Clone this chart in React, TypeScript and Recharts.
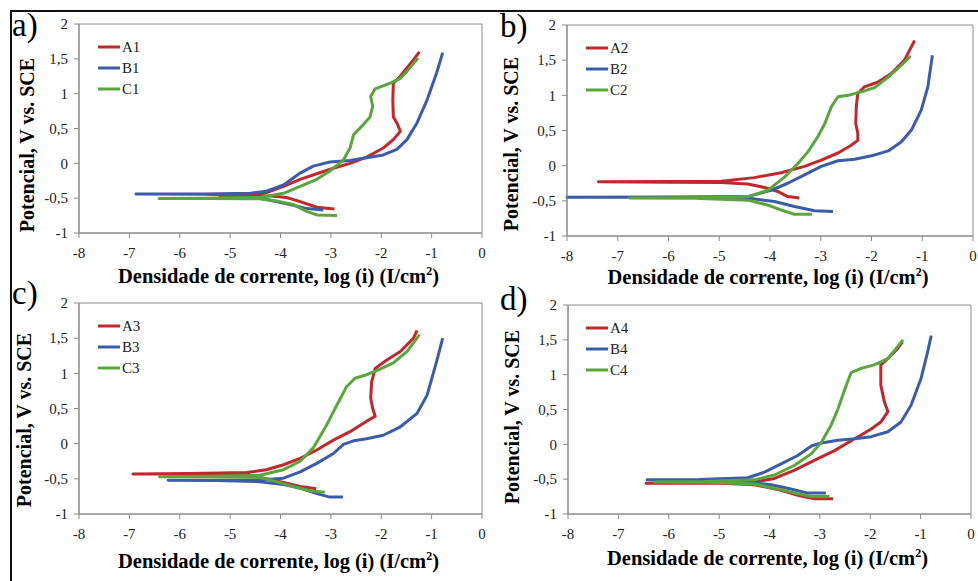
import { LineChart, Line, XAxis, YAxis, ReferenceArea } from "recharts";

type Pt = [number, number];

const X_TICKS = [-8, -7, -6, -5, -4, -3, -2, -1, 0];
const Y_TICKS = [-1, -0.5, 0, 0.5, 1, 1.5, 2];
const Y_TITLE = "Potencial, V vs. SCE";

// a)
const A1: Pt[] = [[-2.93,-0.655],[-3.28,-0.63],[-3.61,-0.55],[-3.88,-0.49],[-4.2,-0.47],[-4.8,-0.465],[-5.2,-0.465],[-4.8,-0.46],[-4.5,-0.44],[-4.28,-0.42],[-3.94,-0.33],[-3.61,-0.23],[-3.28,-0.15],[-2.95,-0.07],[-2.62,0.0],[-2.29,0.09],[-1.96,0.22],[-1.76,0.34],[-1.62,0.46],[-1.69,0.58],[-1.76,0.67],[-1.77,0.91],[-1.76,1.15],[-1.66,1.22],[-1.49,1.37],[-1.24,1.6]];
const B1: Pt[] = [[-3.15,-0.67],[-3.48,-0.65],[-3.81,-0.59],[-4.28,-0.52],[-4.7,-0.46],[-5.5,-0.445],[-6.87,-0.44],[-5.5,-0.44],[-4.6,-0.43],[-4.28,-0.4],[-3.94,-0.31],[-3.61,-0.14],[-3.35,-0.04],[-3.02,0.02],[-2.62,0.04],[-2.29,0.08],[-1.96,0.12],[-1.69,0.2],[-1.49,0.34],[-1.29,0.58],[-1.09,0.91],[-0.9,1.3],[-0.78,1.59]];
const C1: Pt[] = [[-2.88,-0.75],[-3.28,-0.74],[-3.48,-0.69],[-3.75,-0.59],[-4.08,-0.54],[-4.41,-0.51],[-5.5,-0.505],[-6.41,-0.505],[-5.5,-0.5],[-4.41,-0.49],[-3.94,-0.43],[-3.61,-0.33],[-3.28,-0.23],[-3.02,-0.11],[-2.75,0.05],[-2.62,0.22],[-2.55,0.41],[-2.39,0.53],[-2.22,0.67],[-2.17,0.82],[-2.21,0.96],[-2.12,1.07],[-1.82,1.15],[-1.62,1.22],[-1.49,1.32],[-1.27,1.51]];

// b)
const A2: Pt[] = [[-3.42,-0.46],[-3.65,-0.44],[-3.84,-0.37],[-4.11,-0.31],[-4.44,-0.26],[-4.96,-0.24],[-6.0,-0.235],[-7.38,-0.23],[-6.0,-0.225],[-4.96,-0.22],[-4.31,-0.17],[-3.78,-0.1],[-3.32,-0.01],[-2.99,0.08],[-2.66,0.18],[-2.4,0.29],[-2.27,0.36],[-2.27,0.46],[-2.31,0.6],[-2.3,0.84],[-2.27,1.03],[-2.14,1.12],[-1.87,1.19],[-1.61,1.31],[-1.35,1.5],[-1.15,1.78]];
const B2: Pt[] = [[-2.76,-0.65],[-3.12,-0.64],[-3.52,-0.58],[-3.91,-0.51],[-4.44,-0.46],[-6.0,-0.45],[-8.0,-0.45],[-6.0,-0.445],[-4.44,-0.44],[-3.98,-0.35],[-3.65,-0.25],[-3.32,-0.13],[-2.99,-0.01],[-2.66,0.07],[-2.33,0.09],[-2.0,0.14],[-1.67,0.21],[-1.41,0.34],[-1.21,0.51],[-1.02,0.79],[-0.89,1.12],[-0.8,1.57]];
const C2: Pt[] = [[-3.17,-0.69],[-3.52,-0.69],[-3.78,-0.63],[-4.04,-0.56],[-4.44,-0.49],[-5.5,-0.465],[-6.77,-0.46],[-5.5,-0.455],[-4.44,-0.44],[-4.04,-0.35],[-3.71,-0.16],[-3.45,0.03],[-3.25,0.2],[-3.06,0.41],[-2.92,0.6],[-2.79,0.84],[-2.66,0.98],[-2.46,1.0],[-2.2,1.05],[-1.94,1.11],[-1.67,1.26],[-1.41,1.43],[-1.23,1.56]];

// c)
const A3: Pt[] = [[-3.29,-0.64],[-3.61,-0.61],[-3.94,-0.55],[-4.28,-0.5],[-4.67,-0.44],[-5.8,-0.43],[-6.93,-0.43],[-5.8,-0.425],[-4.67,-0.41],[-4.28,-0.37],[-3.94,-0.3],[-3.61,-0.21],[-3.28,-0.09],[-2.95,0.05],[-2.62,0.17],[-2.29,0.32],[-2.12,0.39],[-2.17,0.5],[-2.21,0.65],[-2.19,0.88],[-2.12,1.07],[-1.89,1.19],[-1.62,1.31],[-1.36,1.5],[-1.29,1.61]];
const B3: Pt[] = [[-2.76,-0.76],[-3.02,-0.76],[-3.28,-0.71],[-3.61,-0.63],[-3.94,-0.58],[-4.41,-0.54],[-5.3,-0.525],[-6.23,-0.52],[-5.3,-0.52],[-4.41,-0.515],[-3.94,-0.49],[-3.61,-0.4],[-3.28,-0.28],[-2.95,-0.14],[-2.75,-0.01],[-2.55,0.04],[-2.29,0.07],[-1.96,0.12],[-1.62,0.24],[-1.29,0.43],[-1.09,0.69],[-0.9,1.17],[-0.78,1.5]];
const C3: Pt[] = [[-3.12,-0.69],[-3.41,-0.67],[-3.75,-0.61],[-4.08,-0.54],[-4.41,-0.48],[-5.4,-0.47],[-6.4,-0.47],[-5.4,-0.465],[-4.41,-0.45],[-3.94,-0.37],[-3.61,-0.25],[-3.35,-0.06],[-3.08,0.27],[-2.88,0.55],[-2.69,0.81],[-2.52,0.93],[-2.29,0.98],[-2.09,1.04],[-1.76,1.15],[-1.49,1.31],[-1.24,1.55]];

// d)
const A4: Pt[] = [[-2.74,-0.78],[-3.11,-0.78],[-3.44,-0.73],[-3.77,-0.66],[-4.3,-0.58],[-4.96,-0.56],[-6.45,-0.56],[-4.96,-0.555],[-4.3,-0.54],[-3.9,-0.49],[-3.5,-0.37],[-3.11,-0.23],[-2.71,-0.09],[-2.31,0.08],[-1.98,0.22],[-1.79,0.32],[-1.65,0.47],[-1.72,0.61],[-1.79,0.85],[-1.79,1.14],[-1.65,1.23],[-1.45,1.38],[-1.36,1.47]];
const B4: Pt[] = [[-2.88,-0.7],[-3.24,-0.7],[-3.64,-0.63],[-3.97,-0.58],[-4.43,-0.54],[-5.4,-0.52],[-6.43,-0.51],[-5.4,-0.505],[-4.43,-0.48],[-4.1,-0.4],[-3.77,-0.28],[-3.44,-0.16],[-3.16,-0.02],[-2.97,0.02],[-2.64,0.06],[-2.31,0.08],[-1.98,0.11],[-1.65,0.18],[-1.39,0.32],[-1.19,0.56],[-0.99,0.95],[-0.86,1.33],[-0.79,1.56]];
const C4: Pt[] = [[-2.81,-0.75],[-3.16,-0.75],[-3.5,-0.7],[-3.83,-0.64],[-4.3,-0.57],[-5.3,-0.545],[-6.28,-0.54],[-5.3,-0.535],[-4.3,-0.51],[-3.9,-0.44],[-3.5,-0.3],[-3.16,-0.13],[-2.97,0.03],[-2.78,0.27],[-2.64,0.51],[-2.51,0.78],[-2.38,1.03],[-2.18,1.09],[-1.92,1.14],[-1.65,1.23],[-1.35,1.5]];

const COLORS = ["#c0282d", "#3c5ba8", "#5ba63c"];
const FONT = "Liberation Serif, Times New Roman, serif";
const AXIS = "#8a8a8a";

const toPts = (a: Pt[]) => a.map(([x, y]) => ({ x, y }));

type PanelProps = {
  letter: string;
  names: string[];
  series: Pt[][];
  left: number;
  top: number;
  height: number;
  box: { l: number; r: number; t: number; b: number };
  xTitleY: number;
  yTitle: [number, number];
  letterY: number;
};

function Panel({ letter, names, series, left, top, height, box, xTitleY, yTitle, letterY }: PanelProps) {
  const W = 490;
  const YW = 50;
  const XH = 30;
  const margin = { top: box.t, left: box.l - YW, right: W - box.r, bottom: height - box.b - XH };
  const cx = (box.l + box.r) / 2;

  const xLabel = () => (
    <g fontFamily={FONT}>
      <text x={cx - 2} y={xTitleY} textAnchor="middle" fontSize={20.5} fontWeight="bold" fill="#000">
        Densidade de corrente, log (i) (I/cm<tspan dy={-8} fontSize={12}>2</tspan><tspan dy={8}>)</tspan>
      </text>
      {names.map((n, i) => {
        const y = box.t + 23 + i * 21;
        return (
          <g key={n}>
            <line x1={98} x2={120} y1={y} y2={y} stroke={COLORS[i]} strokeWidth={3} />
            <text x={122} y={y + 5} fontSize={15} fill="#222">{n}</text>
          </g>
        );
      })}
    </g>
  );

  const yLabel = () => (
    <g fontFamily={FONT}>
      <text
        transform={`translate(${yTitle[0]},${yTitle[1]}) rotate(-90)`}
        textAnchor="middle"
        dominantBaseline="central"
        fontSize={20}
        fontWeight="bold"
        fill="#000"
      >
        {Y_TITLE}
      </text>
      <text x={12} y={letterY} fontSize={33} fill="#000">{letter}</text>
    </g>
  );

  return (
    <div style={{ position: "absolute", left, top }}>
      <LineChart width={W} height={height} margin={margin}>
        <ReferenceArea x1={-8} x2={0} y1={-1} y2={2} fill="none" stroke={AXIS} strokeWidth={1} ifOverflow="visible" />
        <XAxis
          type="number"
          dataKey="x"
          domain={[-8, 0]}
          ticks={X_TICKS}
          height={XH}
          tickSize={5}
          tickMargin={9}
          stroke={AXIS}
          tick={{ fontSize: 15, fill: "#222", fontFamily: FONT }}
          label={xLabel}
        />
        <YAxis
          type="number"
          domain={[-1, 2]}
          ticks={Y_TICKS}
          width={YW}
          tickSize={5}
          tickMargin={6}
          stroke={AXIS}
          tick={{ fontSize: 15, fill: "#222", fontFamily: FONT }}
          tickFormatter={(v: number) => String(v).replace(".", ",")}
          label={yLabel}
        />
        {series.map((s, i) => (
          <Line
            key={names[i]}
            data={toPts(s)}
            dataKey="y"
            type="linear"
            stroke={COLORS[i]}
            strokeWidth={3}
            strokeLinejoin="round"
            dot={false}
            activeDot={false}
            isAnimationActive={false}
          />
        ))}
      </LineChart>
    </div>
  );
}

export default function App() {
  return (
    <div style={{ position: "absolute", left: 0, top: 0, width: 978, height: 581, background: "#fff", overflow: "hidden" }}>
      <div style={{ position: "absolute", left: 10, top: 10, right: -4, bottom: -4, borderTop: "2px solid #111", borderLeft: "2px solid #111" }} />
      <Panel letter="a)" names={["A1", "B1", "C1"]} series={[A1, B1, C1]} left={0} top={0} height={290}
        box={{ l: 79, r: 482, t: 24, b: 233 }} xTitleY={283} yTitle={[27, 145]} letterY={36} />
      <Panel letter="b)" names={["A2", "B2", "C2"]} series={[A2, B2, C2]} left={488} top={0} height={290}
        box={{ l: 79, r: 485, t: 25, b: 236 }} xTitleY={284} yTitle={[23, 144]} letterY={37} />
      <Panel letter="c)" names={["A3", "B3", "C3"]} series={[A3, B3, C3]} left={0} top={272} height={309}
        box={{ l: 79, r: 482, t: 31, b: 242 }} xTitleY={296} yTitle={[24, 148]} letterY={32} />
      <Panel letter="d)" names={["A4", "B4", "C4"]} series={[A4, B4, C4]} left={488} top={272} height={309}
        box={{ l: 80, r: 483, t: 33, b: 242 }} xTitleY={293} yTitle={[24, 145]} letterY={38} />
    </div>
  );
}
